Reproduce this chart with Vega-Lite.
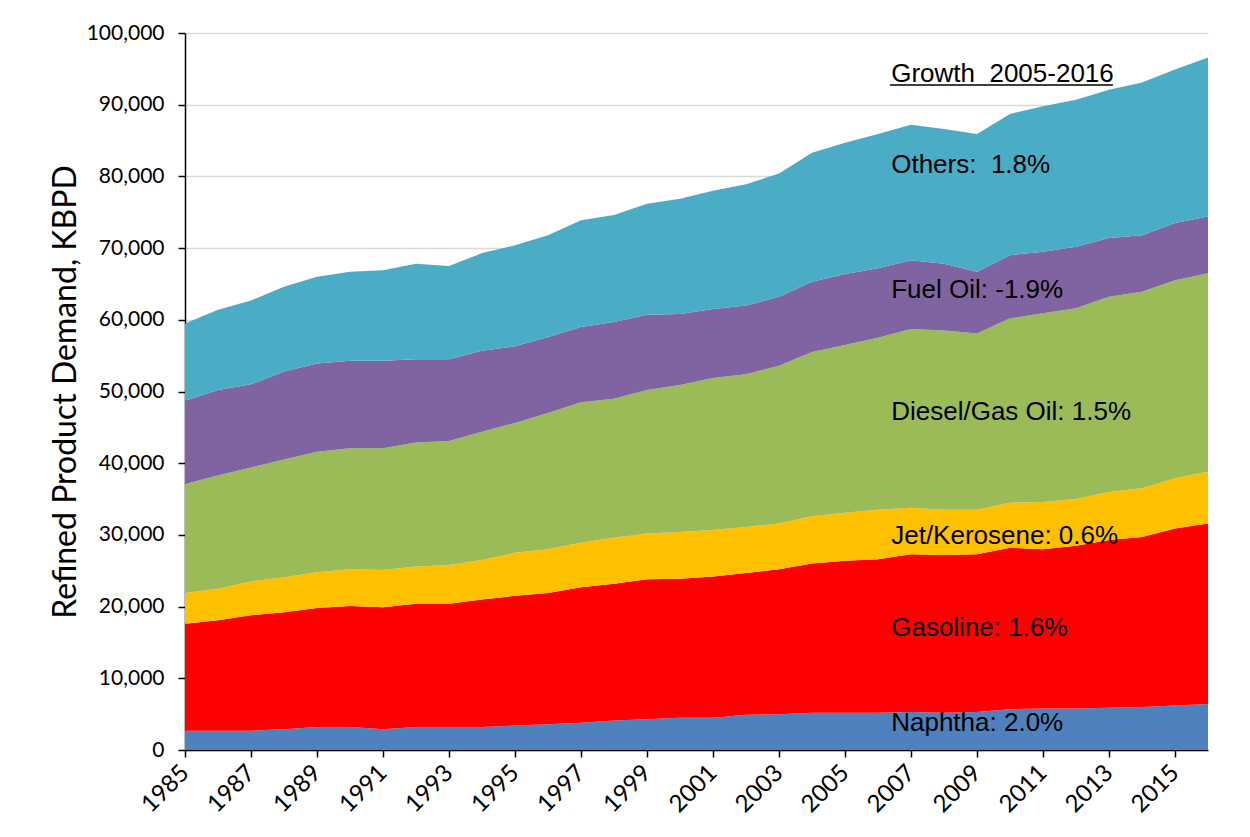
{
  "$schema": "https://vega.github.io/schema/vega-lite/v6.json",
  "autosize": "none",
  "width": 1023,
  "height": 717,
  "padding": {"left": 185, "top": 33, "right": 42, "bottom": 87},
  "background": "white",
  "config": {"view": {"stroke": null}},
  "datasets": {
    "demand": [
      {"year":1985,"product":"Naphtha","rank":1,"kbpd":2700},{"year":1985,"product":"Gasoline","rank":2,"kbpd":14900},{"year":1985,"product":"Jet/Kerosene","rank":3,"kbpd":4300},{"year":1985,"product":"Diesel/Gas Oil","rank":4,"kbpd":15200},{"year":1985,"product":"Fuel Oil","rank":5,"kbpd":11600},{"year":1985,"product":"Others","rank":6,"kbpd":10800},
      {"year":1986,"product":"Naphtha","rank":1,"kbpd":2700},{"year":1986,"product":"Gasoline","rank":2,"kbpd":15400},{"year":1986,"product":"Jet/Kerosene","rank":3,"kbpd":4400},{"year":1986,"product":"Diesel/Gas Oil","rank":4,"kbpd":15800},{"year":1986,"product":"Fuel Oil","rank":5,"kbpd":11900},{"year":1986,"product":"Others","rank":6,"kbpd":11200},
      {"year":1987,"product":"Naphtha","rank":1,"kbpd":2700},{"year":1987,"product":"Gasoline","rank":2,"kbpd":16100},{"year":1987,"product":"Jet/Kerosene","rank":3,"kbpd":4700},{"year":1987,"product":"Diesel/Gas Oil","rank":4,"kbpd":15900},{"year":1987,"product":"Fuel Oil","rank":5,"kbpd":11600},{"year":1987,"product":"Others","rank":6,"kbpd":11700},
      {"year":1988,"product":"Naphtha","rank":1,"kbpd":2900},{"year":1988,"product":"Gasoline","rank":2,"kbpd":16300},{"year":1988,"product":"Jet/Kerosene","rank":3,"kbpd":4900},{"year":1988,"product":"Diesel/Gas Oil","rank":4,"kbpd":16400},{"year":1988,"product":"Fuel Oil","rank":5,"kbpd":12300},{"year":1988,"product":"Others","rank":6,"kbpd":11800},
      {"year":1989,"product":"Naphtha","rank":1,"kbpd":3200},{"year":1989,"product":"Gasoline","rank":2,"kbpd":16600},{"year":1989,"product":"Jet/Kerosene","rank":3,"kbpd":5000},{"year":1989,"product":"Diesel/Gas Oil","rank":4,"kbpd":16800},{"year":1989,"product":"Fuel Oil","rank":5,"kbpd":12300},{"year":1989,"product":"Others","rank":6,"kbpd":12100},
      {"year":1990,"product":"Naphtha","rank":1,"kbpd":3200},{"year":1990,"product":"Gasoline","rank":2,"kbpd":16900},{"year":1990,"product":"Jet/Kerosene","rank":3,"kbpd":5100},{"year":1990,"product":"Diesel/Gas Oil","rank":4,"kbpd":16900},{"year":1990,"product":"Fuel Oil","rank":5,"kbpd":12200},{"year":1990,"product":"Others","rank":6,"kbpd":12400},
      {"year":1991,"product":"Naphtha","rank":1,"kbpd":2900},{"year":1991,"product":"Gasoline","rank":2,"kbpd":17000},{"year":1991,"product":"Jet/Kerosene","rank":3,"kbpd":5200},{"year":1991,"product":"Diesel/Gas Oil","rank":4,"kbpd":17000},{"year":1991,"product":"Fuel Oil","rank":5,"kbpd":12200},{"year":1991,"product":"Others","rank":6,"kbpd":12600},
      {"year":1992,"product":"Naphtha","rank":1,"kbpd":3200},{"year":1992,"product":"Gasoline","rank":2,"kbpd":17200},{"year":1992,"product":"Jet/Kerosene","rank":3,"kbpd":5200},{"year":1992,"product":"Diesel/Gas Oil","rank":4,"kbpd":17300},{"year":1992,"product":"Fuel Oil","rank":5,"kbpd":11600},{"year":1992,"product":"Others","rank":6,"kbpd":13300},
      {"year":1993,"product":"Naphtha","rank":1,"kbpd":3200},{"year":1993,"product":"Gasoline","rank":2,"kbpd":17200},{"year":1993,"product":"Jet/Kerosene","rank":3,"kbpd":5400},{"year":1993,"product":"Diesel/Gas Oil","rank":4,"kbpd":17300},{"year":1993,"product":"Fuel Oil","rank":5,"kbpd":11400},{"year":1993,"product":"Others","rank":6,"kbpd":13000},
      {"year":1994,"product":"Naphtha","rank":1,"kbpd":3200},{"year":1994,"product":"Gasoline","rank":2,"kbpd":17800},{"year":1994,"product":"Jet/Kerosene","rank":3,"kbpd":5500},{"year":1994,"product":"Diesel/Gas Oil","rank":4,"kbpd":17900},{"year":1994,"product":"Fuel Oil","rank":5,"kbpd":11300},{"year":1994,"product":"Others","rank":6,"kbpd":13600},
      {"year":1995,"product":"Naphtha","rank":1,"kbpd":3400},{"year":1995,"product":"Gasoline","rank":2,"kbpd":18100},{"year":1995,"product":"Jet/Kerosene","rank":3,"kbpd":6000},{"year":1995,"product":"Diesel/Gas Oil","rank":4,"kbpd":18100},{"year":1995,"product":"Fuel Oil","rank":5,"kbpd":10700},{"year":1995,"product":"Others","rank":6,"kbpd":14100},
      {"year":1996,"product":"Naphtha","rank":1,"kbpd":3600},{"year":1996,"product":"Gasoline","rank":2,"kbpd":18300},{"year":1996,"product":"Jet/Kerosene","rank":3,"kbpd":6100},{"year":1996,"product":"Diesel/Gas Oil","rank":4,"kbpd":19000},{"year":1996,"product":"Fuel Oil","rank":5,"kbpd":10600},{"year":1996,"product":"Others","rank":6,"kbpd":14200},
      {"year":1997,"product":"Naphtha","rank":1,"kbpd":3800},{"year":1997,"product":"Gasoline","rank":2,"kbpd":18900},{"year":1997,"product":"Jet/Kerosene","rank":3,"kbpd":6200},{"year":1997,"product":"Diesel/Gas Oil","rank":4,"kbpd":19600},{"year":1997,"product":"Fuel Oil","rank":5,"kbpd":10500},{"year":1997,"product":"Others","rank":6,"kbpd":14900},
      {"year":1998,"product":"Naphtha","rank":1,"kbpd":4100},{"year":1998,"product":"Gasoline","rank":2,"kbpd":19100},{"year":1998,"product":"Jet/Kerosene","rank":3,"kbpd":6400},{"year":1998,"product":"Diesel/Gas Oil","rank":4,"kbpd":19400},{"year":1998,"product":"Fuel Oil","rank":5,"kbpd":10700},{"year":1998,"product":"Others","rank":6,"kbpd":14900},
      {"year":1999,"product":"Naphtha","rank":1,"kbpd":4300},{"year":1999,"product":"Gasoline","rank":2,"kbpd":19500},{"year":1999,"product":"Jet/Kerosene","rank":3,"kbpd":6400},{"year":1999,"product":"Diesel/Gas Oil","rank":4,"kbpd":20000},{"year":1999,"product":"Fuel Oil","rank":5,"kbpd":10500},{"year":1999,"product":"Others","rank":6,"kbpd":15500},
      {"year":2000,"product":"Naphtha","rank":1,"kbpd":4500},{"year":2000,"product":"Gasoline","rank":2,"kbpd":19400},{"year":2000,"product":"Jet/Kerosene","rank":3,"kbpd":6500},{"year":2000,"product":"Diesel/Gas Oil","rank":4,"kbpd":20500},{"year":2000,"product":"Fuel Oil","rank":5,"kbpd":9900},{"year":2000,"product":"Others","rank":6,"kbpd":16100},
      {"year":2001,"product":"Naphtha","rank":1,"kbpd":4500},{"year":2001,"product":"Gasoline","rank":2,"kbpd":19700},{"year":2001,"product":"Jet/Kerosene","rank":3,"kbpd":6500},{"year":2001,"product":"Diesel/Gas Oil","rank":4,"kbpd":21200},{"year":2001,"product":"Fuel Oil","rank":5,"kbpd":9600},{"year":2001,"product":"Others","rank":6,"kbpd":16500},
      {"year":2002,"product":"Naphtha","rank":1,"kbpd":4900},{"year":2002,"product":"Gasoline","rank":2,"kbpd":19800},{"year":2002,"product":"Jet/Kerosene","rank":3,"kbpd":6400},{"year":2002,"product":"Diesel/Gas Oil","rank":4,"kbpd":21300},{"year":2002,"product":"Fuel Oil","rank":5,"kbpd":9600},{"year":2002,"product":"Others","rank":6,"kbpd":16900},
      {"year":2003,"product":"Naphtha","rank":1,"kbpd":5000},{"year":2003,"product":"Gasoline","rank":2,"kbpd":20200},{"year":2003,"product":"Jet/Kerosene","rank":3,"kbpd":6400},{"year":2003,"product":"Diesel/Gas Oil","rank":4,"kbpd":22000},{"year":2003,"product":"Fuel Oil","rank":5,"kbpd":9600},{"year":2003,"product":"Others","rank":6,"kbpd":17200},
      {"year":2004,"product":"Naphtha","rank":1,"kbpd":5200},{"year":2004,"product":"Gasoline","rank":2,"kbpd":20800},{"year":2004,"product":"Jet/Kerosene","rank":3,"kbpd":6600},{"year":2004,"product":"Diesel/Gas Oil","rank":4,"kbpd":22900},{"year":2004,"product":"Fuel Oil","rank":5,"kbpd":9800},{"year":2004,"product":"Others","rank":6,"kbpd":18000},
      {"year":2005,"product":"Naphtha","rank":1,"kbpd":5200},{"year":2005,"product":"Gasoline","rank":2,"kbpd":21200},{"year":2005,"product":"Jet/Kerosene","rank":3,"kbpd":6700},{"year":2005,"product":"Diesel/Gas Oil","rank":4,"kbpd":23400},{"year":2005,"product":"Fuel Oil","rank":5,"kbpd":9900},{"year":2005,"product":"Others","rank":6,"kbpd":18300},
      {"year":2006,"product":"Naphtha","rank":1,"kbpd":5200},{"year":2006,"product":"Gasoline","rank":2,"kbpd":21400},{"year":2006,"product":"Jet/Kerosene","rank":3,"kbpd":6900},{"year":2006,"product":"Diesel/Gas Oil","rank":4,"kbpd":24000},{"year":2006,"product":"Fuel Oil","rank":5,"kbpd":9700},{"year":2006,"product":"Others","rank":6,"kbpd":18700},
      {"year":2007,"product":"Naphtha","rank":1,"kbpd":5300},{"year":2007,"product":"Gasoline","rank":2,"kbpd":22000},{"year":2007,"product":"Jet/Kerosene","rank":3,"kbpd":6500},{"year":2007,"product":"Diesel/Gas Oil","rank":4,"kbpd":24900},{"year":2007,"product":"Fuel Oil","rank":5,"kbpd":9600},{"year":2007,"product":"Others","rank":6,"kbpd":18900},
      {"year":2008,"product":"Naphtha","rank":1,"kbpd":5200},{"year":2008,"product":"Gasoline","rank":2,"kbpd":22000},{"year":2008,"product":"Jet/Kerosene","rank":3,"kbpd":6300},{"year":2008,"product":"Diesel/Gas Oil","rank":4,"kbpd":25000},{"year":2008,"product":"Fuel Oil","rank":5,"kbpd":9300},{"year":2008,"product":"Others","rank":6,"kbpd":18800},
      {"year":2009,"product":"Naphtha","rank":1,"kbpd":5300},{"year":2009,"product":"Gasoline","rank":2,"kbpd":22000},{"year":2009,"product":"Jet/Kerosene","rank":3,"kbpd":6200},{"year":2009,"product":"Diesel/Gas Oil","rank":4,"kbpd":24600},{"year":2009,"product":"Fuel Oil","rank":5,"kbpd":8600},{"year":2009,"product":"Others","rank":6,"kbpd":19200},
      {"year":2010,"product":"Naphtha","rank":1,"kbpd":5700},{"year":2010,"product":"Gasoline","rank":2,"kbpd":22500},{"year":2010,"product":"Jet/Kerosene","rank":3,"kbpd":6300},{"year":2010,"product":"Diesel/Gas Oil","rank":4,"kbpd":25700},{"year":2010,"product":"Fuel Oil","rank":5,"kbpd":8800},{"year":2010,"product":"Others","rank":6,"kbpd":19700},
      {"year":2011,"product":"Naphtha","rank":1,"kbpd":5800},{"year":2011,"product":"Gasoline","rank":2,"kbpd":22200},{"year":2011,"product":"Jet/Kerosene","rank":3,"kbpd":6600},{"year":2011,"product":"Diesel/Gas Oil","rank":4,"kbpd":26300},{"year":2011,"product":"Fuel Oil","rank":5,"kbpd":8600},{"year":2011,"product":"Others","rank":6,"kbpd":20300},
      {"year":2012,"product":"Naphtha","rank":1,"kbpd":5800},{"year":2012,"product":"Gasoline","rank":2,"kbpd":22700},{"year":2012,"product":"Jet/Kerosene","rank":3,"kbpd":6500},{"year":2012,"product":"Diesel/Gas Oil","rank":4,"kbpd":26600},{"year":2012,"product":"Fuel Oil","rank":5,"kbpd":8600},{"year":2012,"product":"Others","rank":6,"kbpd":20500},
      {"year":2013,"product":"Naphtha","rank":1,"kbpd":5900},{"year":2013,"product":"Gasoline","rank":2,"kbpd":23400},{"year":2013,"product":"Jet/Kerosene","rank":3,"kbpd":6700},{"year":2013,"product":"Diesel/Gas Oil","rank":4,"kbpd":27200},{"year":2013,"product":"Fuel Oil","rank":5,"kbpd":8200},{"year":2013,"product":"Others","rank":6,"kbpd":20700},
      {"year":2014,"product":"Naphtha","rank":1,"kbpd":6000},{"year":2014,"product":"Gasoline","rank":2,"kbpd":23700},{"year":2014,"product":"Jet/Kerosene","rank":3,"kbpd":6800},{"year":2014,"product":"Diesel/Gas Oil","rank":4,"kbpd":27400},{"year":2014,"product":"Fuel Oil","rank":5,"kbpd":7900},{"year":2014,"product":"Others","rank":6,"kbpd":21300},
      {"year":2015,"product":"Naphtha","rank":1,"kbpd":6200},{"year":2015,"product":"Gasoline","rank":2,"kbpd":24700},{"year":2015,"product":"Jet/Kerosene","rank":3,"kbpd":7000},{"year":2015,"product":"Diesel/Gas Oil","rank":4,"kbpd":27600},{"year":2015,"product":"Fuel Oil","rank":5,"kbpd":8000},{"year":2015,"product":"Others","rank":6,"kbpd":21400},
      {"year":2016,"product":"Naphtha","rank":1,"kbpd":6400},{"year":2016,"product":"Gasoline","rank":2,"kbpd":25200},{"year":2016,"product":"Jet/Kerosene","rank":3,"kbpd":7200},{"year":2016,"product":"Diesel/Gas Oil","rank":4,"kbpd":27700},{"year":2016,"product":"Fuel Oil","rank":5,"kbpd":7900},{"year":2016,"product":"Others","rank":6,"kbpd":22200}
    ],
    "notes": [
      {"year": 2006.4, "value": 93200, "label": "Growth\u00a0 2005-2016"},
      {"year": 2006.4, "value": 80500, "label": "Others:\u00a0 1.8%"},
      {"year": 2006.4, "value": 63100, "label": "Fuel Oil: -1.9%"},
      {"year": 2006.4, "value": 46000, "label": "Diesel/Gas Oil: 1.5%"},
      {"year": 2006.4, "value": 28700, "label": "Jet/Kerosene: 0.6%"},
      {"year": 2006.4, "value": 15900, "label": "Gasoline: 1.6%"},
      {"year": 2006.4, "value": 2700, "label": "Naphtha: 2.0%"}
    ],
    "underline": [
      {"x1": 2006.36, "x2": 2013.12, "value": 92750}
    ]
  },
  "layer": [
    {
      "data": {"name": "demand"},
      "mark": {"type": "area", "interpolate": "linear", "strokeWidth": 0},
      "encoding": {
        "x": {
          "field": "year", "type": "quantitative",
          "scale": {"domain": [1985, 2016], "nice": false, "zero": false},
          "axis": {
            "values": [1985,1986,1987,1988,1989,1990,1991,1992,1993,1994,1995,1996,1997,1998,1999,2000,2001,2002,2003,2004,2005,2006,2007,2008,2009,2010,2011,2012,2013,2014,2015,2016],
            "format": "d",
            "labelExpr": "datum.value % 2 == 1 ? datum.label : ''",
            "labelAngle": -45, "labelAlign": "right", "labelBaseline": "middle",
            "labelPadding": 12, "labelFont": "Lato", "labelFontSize": 24, "labelColor": "#000000",
            "labelOverlap": false, "labelBound": false, "labelFlush": false,
            "tickColor": "#000000", "tickSize": 7, "tickWidth": 1.5,
            "domainColor": "#000000", "domainWidth": 1.5,
            "grid": false, "title": null
          }
        },
        "y": {
          "field": "kbpd", "type": "quantitative", "stack": "zero",
          "scale": {"domain": [0, 100000], "nice": false},
          "axis": {
            "values": [0,10000,20000,30000,40000,50000,60000,70000,80000,90000,100000],
            "format": ",d",
            "labelFont": "Lato", "labelFontSize": 21, "labelColor": "#000000", "labelPadding": 14,
            "tickColor": "#000000", "tickSize": 7, "tickWidth": 1.5,
            "domainColor": "#000000", "domainWidth": 1.5,
            "grid": true, "gridColor": "#D9D9D9", "gridWidth": 1.5,
            "title": "Refined Product Demand, KBPD",
            "titleFont": "Lato", "titleFontSize": 32, "titleFontWeight": "normal", "titleColor": "#000000",
            "titlePadding": 4
          }
        },
        "color": {
          "field": "product", "type": "nominal",
          "scale": {
            "domain": ["Naphtha","Gasoline","Jet/Kerosene","Diesel/Gas Oil","Fuel Oil","Others"],
            "range": ["#4F81BD","#FF0000","#FFC000","#9BBB59","#8064A2","#4BACC6"]
          },
          "legend": null
        },
        "order": {"field": "rank", "type": "quantitative", "sort": "ascending"}
      }
    },
    {
      "data": {"name": "notes"},
      "mark": {"type": "text", "align": "left", "baseline": "alphabetic", "font": "Liberation Sans", "fontSize": 26, "color": "#000000"},
      "encoding": {
        "x": {"field": "year", "type": "quantitative"},
        "y": {"field": "value", "type": "quantitative"},
        "text": {"field": "label", "type": "nominal"}
      }
    },
    {
      "data": {"name": "underline"},
      "mark": {"type": "rule", "color": "#000000", "strokeWidth": 1.5},
      "encoding": {
        "x": {"field": "x1", "type": "quantitative"},
        "x2": {"field": "x2"},
        "y": {"field": "value", "type": "quantitative"}
      }
    }
  ]
}
